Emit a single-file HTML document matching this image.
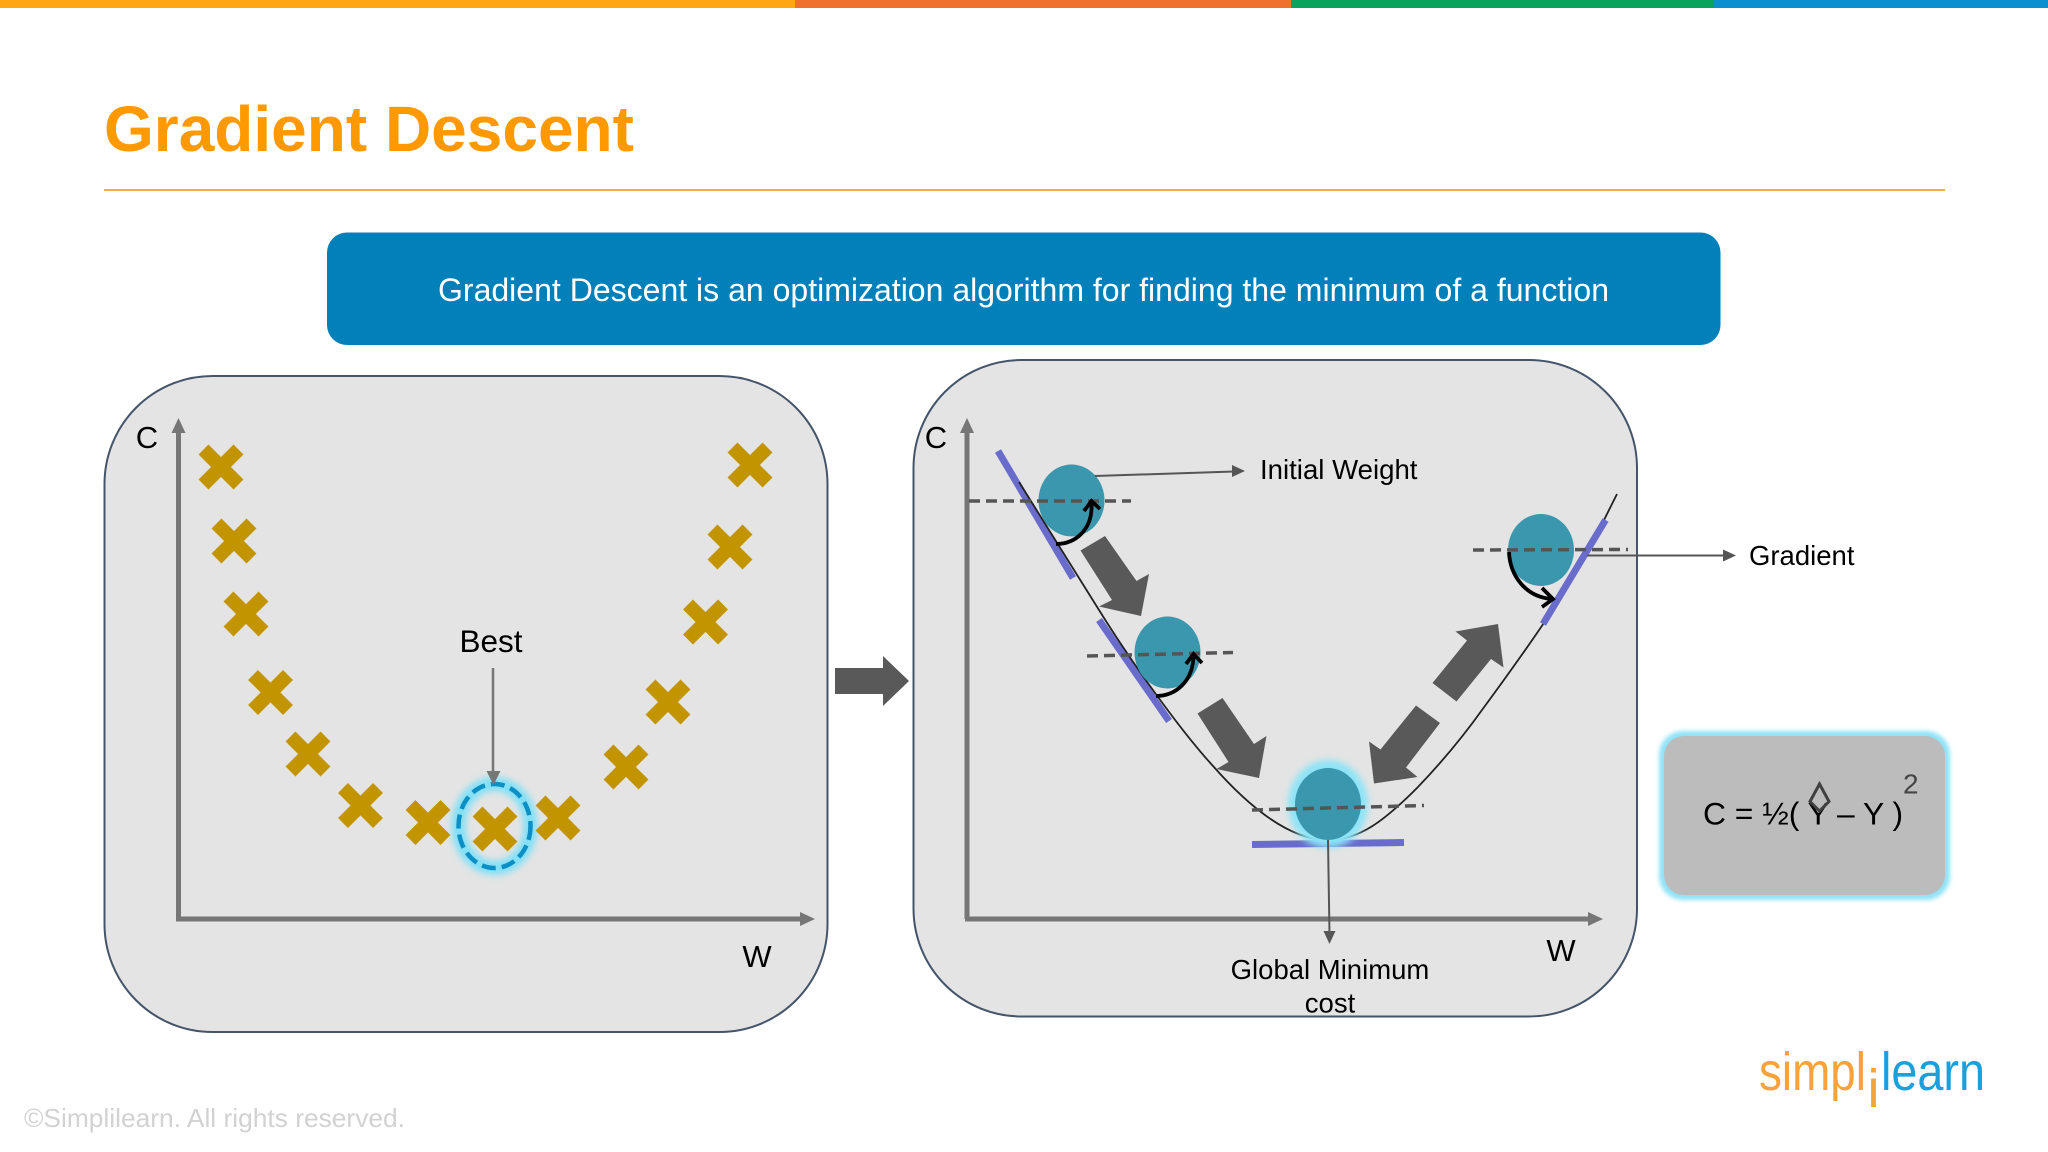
<!DOCTYPE html>
<html lang="en">
<head>
<meta charset="utf-8">
<title>Gradient Descent</title>
<style>
html,body{margin:0;padding:0;background:#fff;width:2048px;height:1152px;overflow:hidden}
svg{display:block;font-family:"Liberation Sans",Arial,sans-serif}
</style>
</head>
<body>
<svg width="2048" height="1152" viewBox="0 0 2048 1152" xmlns="http://www.w3.org/2000/svg">
<defs>
<filter id="b4" x="-40%" y="-40%" width="180%" height="180%"><feGaussianBlur stdDeviation="3.5"/></filter>
<filter id="b2" x="-10%" y="-10%" width="120%" height="120%"><feGaussianBlur stdDeviation="2"/></filter>
<g id="x"><path d="M-17.5-17.5L17.5 17.5M17.5-17.5L-17.5 17.5" stroke="#c29400" stroke-width="14" fill="none"/></g>
</defs>
<rect width="2048" height="1152" fill="#fff"/>
<!-- top bar -->
<rect x="0" y="0" width="795" height="8" fill="#ffa614"/>
<rect x="795" y="0" width="496" height="8" fill="#f0702e"/>
<rect x="1291" y="0" width="422" height="8" fill="#0aa35e"/>
<rect x="1713" y="0" width="335" height="8" fill="#0b8fd0"/>
<!-- title -->
<text x="104" y="151" font-size="64" font-weight="700" fill="#ff9900">Gradient Descent</text>
<rect x="104" y="189" width="1841" height="2" fill="#f2b33d"/>
<!-- banner -->
<rect x="327" y="232.500" width="1393.500" height="112.500" rx="20" fill="#0280ba"/>
<text x="1023.500" y="301" font-size="32" fill="#fff" text-anchor="middle" textLength="1171" lengthAdjust="spacingAndGlyphs">Gradient Descent is an optimization algorithm for finding the minimum of a function</text>

<!-- left panel -->
<rect x="104.500" y="376" width="723" height="656" rx="108" fill="#e4e4e4" stroke="#44546a" stroke-width="2"/>
<path d="M178.500 919V428M176 919H804" stroke="#767676" stroke-width="5" fill="none"/>
<path d="M178.500 418l7 15h-14z" fill="#767676"/>
<path d="M815 919l-15 7v-14z" fill="#767676"/>
<text x="147" y="448" font-size="31" text-anchor="middle" fill="#000">C</text>
<text x="757" y="967" font-size="31" text-anchor="middle" fill="#000">W</text>
<text x="491" y="652" font-size="31.500" text-anchor="middle" fill="#000">Best</text>
<ellipse cx="494.500" cy="826" rx="36" ry="42" fill="none" stroke="#7fe0f7" stroke-width="14" filter="url(#b4)"/>
<ellipse cx="494.500" cy="826" rx="36" ry="42" fill="none" stroke="#0c8fc4" stroke-width="4.500" stroke-dasharray="14 6"/>
<use href="#x" x="221" y="467"/>
<use href="#x" x="234" y="541"/>
<use href="#x" x="246" y="614"/>
<use href="#x" x="270.500" y="692.500"/>
<use href="#x" x="308" y="754"/>
<use href="#x" x="360.500" y="805.500"/>
<use href="#x" x="428" y="822.500"/>
<use href="#x" x="495" y="829"/>
<use href="#x" x="558" y="818"/>
<use href="#x" x="626" y="767"/>
<use href="#x" x="668" y="702"/>
<use href="#x" x="705.500" y="622"/>
<use href="#x" x="730" y="547"/>
<use href="#x" x="750" y="465"/>
<path d="M493 668V772" stroke="#767676" stroke-width="2.500" fill="none"/>
<path d="M493.500 785l-7-14h14z" fill="#767676"/>

<!-- connecting arrow -->
<path d="M835 668H883V656L909 681L883 706V694H835Z" fill="#595959"/>

<!-- right panel -->
<rect x="913.500" y="360" width="723.500" height="656.500" rx="108" fill="#e4e4e4" stroke="#44546a" stroke-width="2"/>
<path d="M967 919V428M965 919H1592" stroke="#767676" stroke-width="5" fill="none"/>
<path d="M967 418l7 15h-14z" fill="#767676"/>
<path d="M1603 919l-15 7v-14z" fill="#767676"/>
<text x="936" y="448" font-size="31" text-anchor="middle" fill="#000">C</text>
<text x="1561" y="961" font-size="31" text-anchor="middle" fill="#000">W</text>

<!-- tangents (left side under the curve) -->
<path d="M998 451L1073 578M1099 620L1169 721M1252 844.500L1404 842.500" stroke="#6a6ccc" stroke-width="7" fill="none"/>
<!-- curve -->
<path d="M1019 482L1099 610C1130 660 1180 730 1213 766C1250 808 1290 840 1328 840C1360 840 1385 820 1417 788C1442 762 1462 738 1482 710C1510 672 1562 600 1587 554L1617 494" fill="none" stroke="#222" stroke-width="1.800"/>
<path d="M1605.500 520L1543 624" stroke="#6a6ccc" stroke-width="7" fill="none"/>

<!-- balls -->
<ellipse cx="1328" cy="804" rx="40" ry="44" fill="#8ce4f7" filter="url(#b4)"/>
<ellipse cx="1071.500" cy="500.500" rx="33" ry="36" fill="#3a97ad"/>
<ellipse cx="1167.500" cy="652.500" rx="33" ry="36" fill="#3a97ad"/>
<ellipse cx="1328" cy="804" rx="33" ry="36" fill="#3a97ad"/>
<ellipse cx="1541" cy="550" rx="33" ry="36" fill="#3a97ad"/>

<!-- dashed -->
<g stroke="#555" stroke-width="3.500" stroke-dasharray="11 6" fill="none">
<path d="M969 501H1131"/>
<path d="M1087 656L1233 652.500"/>
<path d="M1252 810L1424 805.500"/>
<path d="M1473 550L1628 549.500"/>
</g>

<!-- curved arrows -->
<g fill="none" stroke="#000" stroke-width="3.800">
<path d="M1056 544C1075 544 1093 530 1091.500 503"/>
<path d="M1084 511L1091.500 501L1100 509"/>
<path d="M1156 696C1175 696 1193 682 1193.500 656"/>
<path d="M1186 664L1193.500 654L1202 663"/>
<path d="M1509 552C1510 575 1525 597 1552 599"/>
<path d="M1542 588L1553 599L1542 607"/>
</g>

<!-- big arrows -->
<g fill="#595959">
<path d="M1080.500 550.500L1105 536L1136.500 581L1149 574L1141 616L1099 606.500L1112 600Z"/>
<path d="M1197.500 713.500L1222.500 698L1254 744L1266.500 736L1259 778L1216.500 769L1228.500 762Z"/>
<path d="M1432.500 683L1456.500 701.500L1491 659L1503.500 667.500L1498 624L1455.500 631.500L1467 640.500Z"/>
<path d="M1416 705.500L1440 723L1406 767.500L1417.500 777L1374 783.500L1369 741.500L1380.500 749.500Z"/>
</g>

<!-- thin connectors -->
<path d="M1095 476L1234 471.500" stroke="#555" stroke-width="2" fill="none"/>
<path d="M1245 471l-13 6v-12z" fill="#555"/>
<path d="M1587 555.500H1724" stroke="#555" stroke-width="2" fill="none"/>
<path d="M1736 555.500l-13 6v-12z" fill="#555"/>
<path d="M1328 840L1329.500 934" stroke="#555" stroke-width="2" fill="none"/>
<path d="M1329.500 944l-6-13h12z" fill="#555"/>

<!-- labels -->
<text x="1260" y="479" font-size="27.600" fill="#000">Initial Weight</text>
<text x="1749" y="565" font-size="27.500" fill="#000">Gradient</text>
<text x="1330" y="979" font-size="27.500" text-anchor="middle" fill="#000">Global Minimum</text>
<text x="1330" y="1012.500" font-size="27.500" text-anchor="middle" fill="#000">cost</text>

<!-- formula box -->
<rect x="1659" y="731" width="291" height="169" rx="24" fill="#8fe3f7" filter="url(#b2)"/>
<rect x="1664" y="736" width="281" height="159" rx="20" fill="#bcbcbc"/>
<text x="1703" y="824.500" font-size="31.800" fill="#000" xml:space="preserve">C = ½( Y – Y )</text>
<path d="M1819.500 784L1829 801.500L1819.500 811L1810 801.500Z" fill="none" stroke="#404040" stroke-width="3"/>
<text x="1903" y="793.500" font-size="28" fill="#444">2</text>

<!-- logo -->
<g transform="translate(1759 1090) scale(1 1.1)"><text x="0" y="0" font-size="49" fill="#f5a33a" textLength="107" lengthAdjust="spacingAndGlyphs">simpl</text></g>
<text x="1873.500" y="1107" font-size="54" fill="#f5a33a" text-anchor="middle">i</text>
<g transform="translate(1881 1090) scale(1 1.1)"><text x="0" y="0" font-size="49" fill="#1ba0dc" textLength="104" lengthAdjust="spacingAndGlyphs">learn</text></g>

<!-- footer -->
<text x="24" y="1127" font-size="26" fill="#d2d2d2" textLength="381" lengthAdjust="spacingAndGlyphs">©Simplilearn. All rights reserved.</text>
</svg>
</body>
</html>
